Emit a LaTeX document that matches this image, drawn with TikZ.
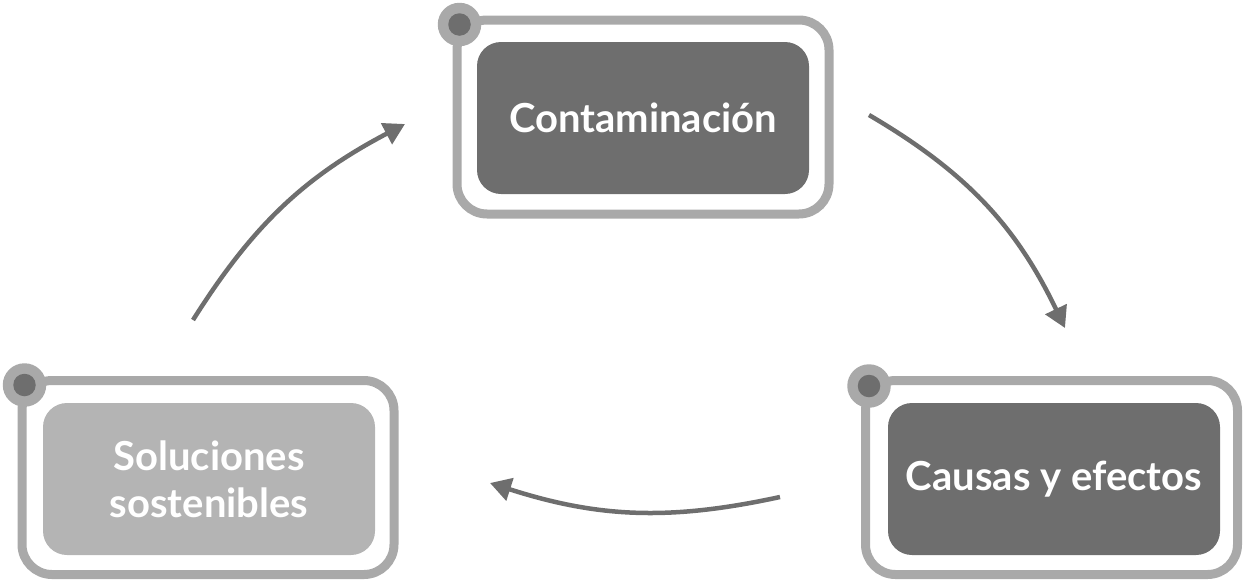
\documentclass[tikz,border=0pt]{standalone}
\usepackage{fontspec}
\setmainfont{Lato}
\usetikzlibrary{arrows.meta}
\definecolor{framegray}{HTML}{A9A9A9}
\definecolor{darkgray}{HTML}{6E6E6E}
\definecolor{lightgray}{HTML}{B4B4B4}
\begin{document}
\begin{tikzpicture}[x=1pt,y=-1pt,
  frame/.style={draw=framegray,line width=9pt,rounded corners=30pt,minimum width=372pt,minimum height=194pt,inner sep=0pt},
  card/.style={rounded corners=24pt,minimum width=332pt,minimum height=152pt,inner sep=0pt,text=white,align=center,font=\fontsize{40}{47}\selectfont\bfseries},
  darkcard/.style={card,fill=darkgray},
  lightcard/.style={card,fill=lightgray},
  dotout/.style={circle,fill=framegray,minimum size=43.5pt,inner sep=0pt},
  dotin/.style={circle,fill=darkgray,minimum size=22.5pt,inner sep=0pt},
  flow/.style={draw=darkgray,line width=4.5pt,-{Triangle[length=21pt,width=23pt]}}
]
\useasboundingbox (0,0) rectangle (1243,579);
% top
\node[frame] (f1) at (643,117) {};
\node[darkcard] (c1) at (643,118) {Contaminación};
\node[dotout] (o1) at ([xshift=7pt,yshift=-9pt]f1.north west) {};
\node[dotin] (i1) at (o1) {};
% right
\node[frame] (f2) at (1051.5,477.5) {};
\node[darkcard] (c2) at (1054,479) {Causas y efectos};
\node[dotout] (o2) at ([xshift=8pt,yshift=-10pt]f2.north west) {};
\node[dotin] (i2) at (o2) {};
% left
\node[frame] (f3) at (208,477.5) {};
\node[lightcard] (c3) at (209,479) {Soluciones\\sostenibles};
\node[dotout] (o3) at ([xshift=7pt,yshift=-9pt]f3.north west) {};
\node[dotin] (i3) at (o3) {};
% arrows
\coordinate (a1s) at (193,320);
\coordinate (a1e) at (405,124);
\coordinate (a2s) at (869,115);
\coordinate (a2e) at (1065,328);
\coordinate (a3s) at (780,497);
\coordinate (a3e) at (490,483);
\draw[flow] (a1s) to[bend left=15] (a1e);
\draw[flow] (a2s) to[bend left=17] (a2e);
\draw[flow] (a3s) to[bend left=15] (a3e);
\end{tikzpicture}
\end{document}
